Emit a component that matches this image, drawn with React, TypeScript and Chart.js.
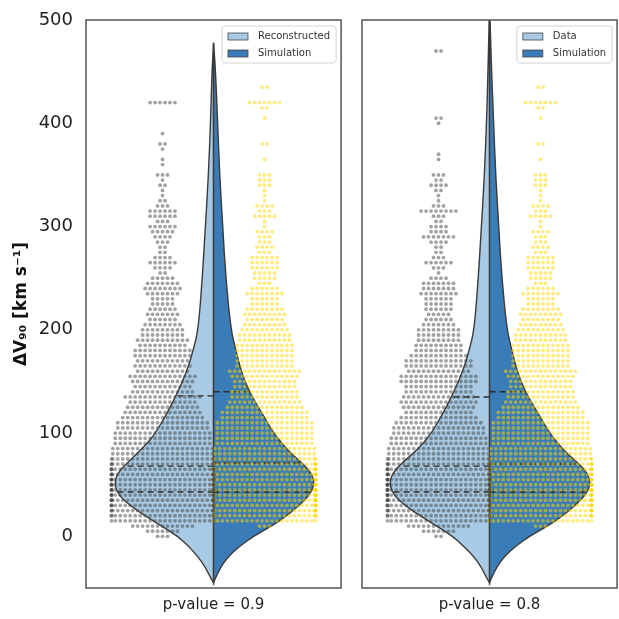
import React, { useEffect, useRef } from "react";
import { Chart, registerables } from "chart.js";

Chart.register(...registerables);
Chart.defaults.font.family = "'DejaVu Sans', sans-serif";

// ---------- axis / text ----------
const Y_MIN = -50;
const Y_MAX = 500;
const yTickValues = [0, 100, 200, 300, 400, 500];
const yAxisTitle = "ΔV₉₀ [km s⁻¹]";
const xTitles = ["p-value = 0.9", "p-value = 0.8"];
const legendLabelsP1 = ["Reconstructed", "Simulation"];
const legendLabelsP2 = ["Data", "Simulation"];

// ---------- violin density profiles (relative half-widths) ----------
const violinYP1 = [-45, -40, -30, -20, -10, 0, 10, 20, 30, 40, 50, 60, 70, 80, 90, 100, 120, 140, 160, 180, 200, 250, 300, 350, 400, 450, 478];
const violinYP2 = [-45, -40, -30, -20, -10, 0, 10, 20, 30, 40, 50, 60, 70, 80, 90, 100, 120, 140, 160, 180, 200, 250, 300, 350, 400, 450, 515];
const p1LeftDensity = [0, 0.03, 0.08, 0.15, 0.24, 0.35, 0.51, 0.67, 0.82, 0.93, 0.97, 0.95, 0.86, 0.75, 0.65, 0.57, 0.45, 0.35, 0.26, 0.2, 0.15, 0.11, 0.08, 0.05, 0.03, 0.015, 0];
const p1RightDensity = [0, 0.02, 0.07, 0.14, 0.25, 0.39, 0.57, 0.72, 0.84, 0.94, 0.99, 0.97, 0.88, 0.76, 0.67, 0.59, 0.47, 0.35, 0.27, 0.22, 0.17, 0.12, 0.09, 0.06, 0.04, 0.02, 0];
const p2LeftDensity = [0, 0.03, 0.08, 0.15, 0.25, 0.36, 0.52, 0.68, 0.83, 0.94, 0.98, 0.96, 0.87, 0.75, 0.65, 0.57, 0.45, 0.35, 0.26, 0.2, 0.15, 0.11, 0.08, 0.05, 0.03, 0.015, 0];
const p2RightDensity = [0, 0.02, 0.07, 0.14, 0.25, 0.39, 0.57, 0.72, 0.84, 0.94, 0.99, 0.97, 0.88, 0.76, 0.67, 0.59, 0.47, 0.35, 0.27, 0.22, 0.17, 0.12, 0.09, 0.06, 0.04, 0.02, 0];

// quartiles (25 %, 50 %, 75 %)
const p1LeftQuartiles = [43, 68, 136];
const p1RightQuartiles = [43, 71, 140];
const p2LeftQuartiles = [43, 68, 135];
const p2RightQuartiles = [43, 70, 140];

// ---------- swarm data: value bins and number of points in each ----------
const swarmValues = [
  0, 5, 10, 15, 20, 25, 30, 35, 40, 45, 50, 55, 60, 65, 70, 75, 80, 85, 90, 95,
  100, 105, 110, 115, 120, 125, 130, 135, 140, 145, 150, 155, 160, 165, 170, 175, 180, 185, 190, 195,
  200, 205, 210, 215, 220, 225, 230, 235, 240, 245, 250, 255, 260, 265, 270, 275, 280, 285, 290, 295,
  300, 305, 310, 315, 320, 325, 330, 335, 340, 345, 350, 355, 360, 365, 370, 375, 380, 385, 390, 395,
  400, 405, 410, 415, 420, 425, 430, 435, 440, 445, 450, 455, 460, 465, 470,
];
const p1GreyCounts = [
  3, 7, 13, 22, 24, 25, 26, 27, 28, 28, 28, 28, 27, 26, 25, 23, 21, 21, 20, 20,
  20, 19, 19, 17, 16, 15, 14, 16, 13, 12, 13, 14, 11, 12, 11, 12, 12, 10, 11, 9,
  9, 8, 6, 7, 6, 5, 5, 7, 8, 7, 5, 2, 4, 6, 4, 2, 2, 3, 4, 5,
  6, 3, 6, 6, 3, 2, 1, 1, 2, 1, 3, 0, 1, 1, 0, 1, 2, 0, 1, 0,
  0, 0, 0, 0, 6, 0, 0, 0, 0, 0, 0, 0, 0, 0, 0,
];
const p2GreyCounts = [
  2, 7, 13, 22, 24, 25, 26, 27, 28, 28, 28, 28, 27, 26, 25, 23, 21, 21, 20, 20,
  19, 19, 18, 16, 14, 15, 16, 15, 14, 14, 16, 16, 13, 14, 14, 12, 10, 10, 9, 9,
  9, 7, 6, 5, 6, 6, 6, 8, 7, 7, 4, 1, 3, 6, 3, 2, 2, 4, 7, 4,
  4, 2, 3, 8, 3, 1, 1, 2, 4, 2, 3, 0, 0, 1, 1, 0, 0, 0, 0, 0,
  1, 2, 0, 0, 0, 0, 0, 0, 0, 0, 0, 0, 0, 0, 2,
];
const simYellowCounts = [
  0, 0, 3, 22, 25, 27, 28, 29, 29, 29, 29, 28, 28, 27, 26, 23, 21, 21, 20, 20,
  20, 20, 20, 18, 18, 16, 15, 14, 14, 13, 13, 14, 15, 12, 12, 12, 12, 12, 11, 11,
  10, 9, 8, 9, 8, 6, 6, 8, 6, 3, 5, 5, 6, 6, 6, 3, 4, 3, 3, 4,
  1, 1, 5, 3, 4, 1, 1, 1, 3, 3, 3, 0, 0, 1, 0, 0, 2, 0, 0, 0,
  0, 1, 0, 2, 7, 0, 0, 2, 0, 0, 0, 0, 0, 0, 0,
];

// ---------- styles ----------
const LIGHT_BLUE = "#a8cae4";
const DARK_BLUE = "#3a7cb7";
const OUTLINE = "#3a3a3a";
const VIOLIN_HALF = 0.4;
const SWARM_CENTER = 0.2;
const SWARM_HALF = 0.2;
const SWARM_STEP = 0.0195;

type Pt = { x: number; y: number };

function buildSwarm(values: number[], counts: number[], center: number): Pt[] {
  const pts: Pt[] = [];
  for (let i = 0; i < values.length; i++) {
    const n = counts[i] || 0;
    for (let k = 0; k < n; k++) {
      let off = (k - (n - 1) / 2) * SWARM_STEP;
      off = Math.max(-SWARM_HALF, Math.min(SWARM_HALF, off));
      pts.push({ x: center + off, y: values[i] });
    }
  }
  return pts;
}

function interp(v: number, ys: number[], ds: number[]) {
  for (let i = 0; i < ys.length - 1; i++) {
    if (v >= ys[i] && v <= ys[i + 1]) {
      const t = (v - ys[i]) / (ys[i + 1] - ys[i]);
      return ds[i] + t * (ds[i + 1] - ds[i]);
    }
  }
  return 0;
}

type PanelCfg = {
  canvasLeft: number;
  canvasWidth: number;
  padLeft: number;
  showY: boolean;
  title: string;
  legend: string[];
  vy: number[];
  left: number[];
  right: number[];
  qL: number[];
  qR: number[];
  grey: number[];
  yellow: number[];
};

const panels: PanelCfg[] = [
  {
    canvasLeft: 0, canvasWidth: 343, padLeft: 0, showY: true, title: xTitles[0], legend: legendLabelsP1,
    vy: violinYP1, left: p1LeftDensity, right: p1RightDensity, qL: p1LeftQuartiles, qR: p1RightQuartiles,
    grey: p1GreyCounts, yellow: simYellowCounts,
  },
  {
    canvasLeft: 343, canvasWidth: 276, padLeft: 19, showY: false, title: xTitles[1], legend: legendLabelsP2,
    vy: violinYP2, left: p2LeftDensity, right: p2RightDensity, qL: p2LeftQuartiles, qR: p2RightQuartiles,
    grey: p2GreyCounts, yellow: simYellowCounts,
  },
];

function makePlugins(p: PanelCfg) {
  const violin = {
    id: "violin",
    beforeDatasetsDraw(chart: any) {
      const { ctx, chartArea, scales } = chart;
      const xs = scales.x;
      const ys = scales.y;
      ctx.save();
      ctx.beginPath();
      ctx.rect(chartArea.left, chartArea.top, chartArea.right - chartArea.left, chartArea.bottom - chartArea.top);
      ctx.clip();
      const halves = [
        { dens: p.left, sign: -1, color: LIGHT_BLUE, q: p.qL },
        { dens: p.right, sign: 1, color: DARK_BLUE, q: p.qR },
      ];
      for (const h of halves) {
        const pts = p.vy.map((v, i) => ({
          x: xs.getPixelForValue(h.sign * h.dens[i] * VIOLIN_HALF),
          y: ys.getPixelForValue(v),
        }));
        ctx.beginPath();
        ctx.moveTo(pts[0].x, pts[0].y);
        for (let i = 1; i < pts.length - 1; i++) {
          const mx = (pts[i].x + pts[i + 1].x) / 2;
          const my = (pts[i].y + pts[i + 1].y) / 2;
          ctx.quadraticCurveTo(pts[i].x, pts[i].y, mx, my);
        }
        ctx.lineTo(pts[pts.length - 1].x, pts[pts.length - 1].y);
        ctx.closePath();
        ctx.fillStyle = h.color;
        ctx.fill();
        ctx.lineWidth = 1.4;
        ctx.strokeStyle = OUTLINE;
        ctx.stroke();
        // quartile lines
        ctx.save();
        ctx.setLineDash([6, 4]);
        ctx.lineWidth = 1.4;
        ctx.strokeStyle = "#2b2b2b";
        for (const q of h.q) {
          const d = interp(q, p.vy, h.dens);
          const y = ys.getPixelForValue(q);
          ctx.beginPath();
          ctx.moveTo(xs.getPixelForValue(0), y);
          ctx.lineTo(xs.getPixelForValue(h.sign * d * VIOLIN_HALF), y);
          ctx.stroke();
        }
        ctx.restore();
      }
      ctx.restore();
    },
  };
  const frame = {
    id: "frameAndLegend",
    afterDatasetsDraw(chart: any) {
      const { ctx, chartArea } = chart;
      ctx.save();
      ctx.lineWidth = 1.5;
      ctx.strokeStyle = "#555555";
      ctx.strokeRect(chartArea.left, chartArea.top, chartArea.right - chartArea.left, chartArea.bottom - chartArea.top);
      // legend
      ctx.font = "10px 'DejaVu Sans', sans-serif";
      const tw = Math.max(...p.legend.map((l) => ctx.measureText(l).width));
      const w = 36 + tw + 6;
      const h = 37;
      const x0 = chartArea.right - 5 - w;
      const y0 = chartArea.top + 6;
      ctx.beginPath();
      (ctx as any).roundRect(x0, y0, w, h, 3);
      ctx.fillStyle = "rgba(255,255,255,0.85)";
      ctx.fill();
      ctx.lineWidth = 1;
      ctx.strokeStyle = "#d4d4d4";
      ctx.stroke();
      const cols = [LIGHT_BLUE, DARK_BLUE];
      p.legend.forEach((label, i) => {
        const sy = y0 + 7 + i * 17;
        ctx.fillStyle = cols[i];
        ctx.fillRect(x0 + 6, sy, 20, 7);
        ctx.lineWidth = 0.8;
        ctx.strokeStyle = "#444";
        ctx.strokeRect(x0 + 6, sy, 20, 7);
        ctx.fillStyle = "#333";
        ctx.textBaseline = "middle";
        ctx.textAlign = "left";
        ctx.fillText(label, x0 + 36, sy + 3.5);
      });
      ctx.restore();
    },
  };
  return [violin, frame];
}

export default function App() {
  const refs = [useRef<HTMLCanvasElement>(null), useRef<HTMLCanvasElement>(null)];

  useEffect(() => {
    const charts: Chart[] = [];
    panels.forEach((p, idx) => {
      const canvas = refs[idx].current;
      if (!canvas) return;
      const greyPts = buildSwarm(swarmValues, p.grey, -SWARM_CENTER);
      const yellowPts = buildSwarm(swarmValues, p.yellow, SWARM_CENTER);
      const chart = new Chart(canvas, {
        type: "scatter",
        data: {
          datasets: [
            {
              label: "grey",
              data: greyPts,
              pointRadius: 1.9,
              pointBackgroundColor: "rgba(70,70,70,0.5)",
              pointBorderWidth: 0,
              pointHoverRadius: 1.9,
            },
            {
              label: "yellow",
              data: yellowPts,
              pointRadius: 1.9,
              pointBackgroundColor: "rgba(255,215,0,0.5)",
              pointBorderWidth: 0,
              pointHoverRadius: 1.9,
            },
          ],
        },
        options: {
          responsive: false,
          animation: false,
          events: [],
          layout: { padding: { top: 20, right: 1, bottom: 0, left: p.padLeft } },
          plugins: { legend: { display: false }, tooltip: { enabled: false } },
          scales: {
            x: {
              type: "linear",
              min: -0.5,
              max: 0.5,
              grid: { display: false },
              border: { display: false },
              ticks: { display: false },
              afterFit: (s: any) => {
                s.height = 31;
                s.paddingLeft = 0;
                s.paddingRight = 0;
              },
              title: {
                display: true,
                text: p.title,
                color: "#222",
                font: { size: 15 },
                padding: { top: 0, bottom: 5 },
              },
            },
            y: {
              type: "linear",
              display: p.showY,
              min: Y_MIN,
              max: Y_MAX,
              afterBuildTicks: (s: any) => {
                s.ticks = yTickValues.map((v) => ({ value: v }));
              },
              afterFit: (s: any) => {
                s.width = p.showY ? 86 : 0;
                s.paddingTop = 0;
                s.paddingBottom = 0;
              },
              grid: { display: false, drawTicks: false },
              border: { display: false },
              ticks: { padding: 13, color: "#222", font: { size: 18 } },
              title: {
                display: true,
                text: yAxisTitle,
                color: "#111",
                font: { size: 17, weight: "bold" },
                padding: { top: 11, bottom: 0 },
              },
            },
          },
        },
        plugins: makePlugins(p),
      } as any);
      charts.push(chart);
    });
    return () => charts.forEach((c) => c.destroy());
  }, []);

  return (
    <div style={{ position: "absolute", left: 0, top: 0, width: 619, height: 619, background: "#fff" }}>
      {panels.map((p, i) => (
        <canvas
          key={i}
          ref={refs[i]}
          width={p.canvasWidth}
          height={619}
          style={{ position: "absolute", left: p.canvasLeft, top: 0, width: p.canvasWidth, height: 619 }}
        />
      ))}
    </div>
  );
}
